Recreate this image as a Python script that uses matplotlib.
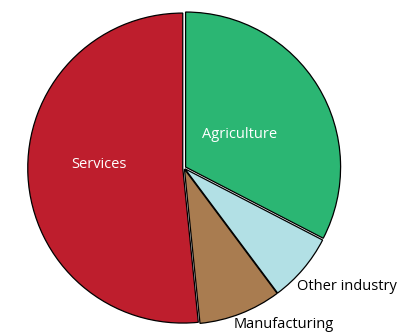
import matplotlib
matplotlib.use("Agg")
import matplotlib.pyplot as plt

# Share of employment by sector (%)
sectors = ["Agriculture", "Other industry", "Manufacturing", "Services"]
shares = [32.6, 7.2, 8.6, 51.6]
colors = ["#2BB673", "#B2E0E5", "#A97C50", "#BE1E2D"]

fig = plt.figure(figsize=(3.99, 3.33), dpi=100)
ax = fig.add_axes([0, 0, 1, 1])

wedges, _ = ax.pie(shares, colors=colors, startangle=90, counterclock=False,
                   explode=[0.012, 0.008, 0.008, 0.008],
                   wedgeprops=dict(edgecolor="black", linewidth=0.9))

ax.set_xlim(-184 / 155, (399 - 184) / 155)
ax.set_ylim(-(333 - 168) / 155, 168 / 155)
ax.set_aspect("auto")
ax.axis("off")

font = "Open Sans"
ax.text((240 - 184) / 155, (168 - 135) / 155, "Agriculture", color="white",
        fontsize=10.5, family=font, ha="center", va="center")
ax.text((99 - 184) / 155, (168 - 164) / 155, "Services", color="white",
        fontsize=10.5, family=font, ha="center", va="center")
ax.text((347 - 184) / 155, (168 - 286) / 155, "Other industry", color="black",
        fontsize=10.5, family=font, ha="center", va="center")
ax.text((284 - 184) / 155, (168 - 325) / 155, "Manufacturing", color="black",
        fontsize=10.5, family=font, ha="center", va="center")

fig.savefig("out.png", dpi=100)
